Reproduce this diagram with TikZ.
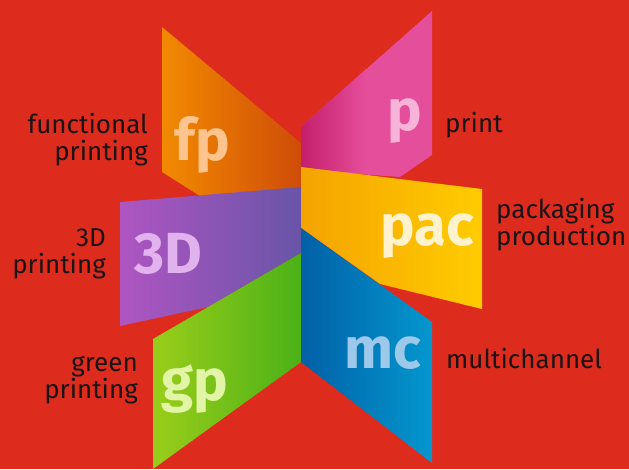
\documentclass[tikz,border=0pt]{standalone}
\usepackage{fontspec}
\setmainfont{Fira Sans}
\usetikzlibrary{positioning}

\definecolor{bgred}{HTML}{DD2B1E}
\definecolor{inkblack}{HTML}{1A1414}
\definecolor{fpleft}{HTML}{F28A00}   \definecolor{fpright}{HTML}{CF4C08}
\definecolor{pleft}{HTML}{C41F6C}    \definecolor{pright}{HTML}{E54E9B}
\definecolor{pacleft}{HTML}{F5A300}  \definecolor{pacright}{HTML}{FFCC00}
\definecolor{mcleft}{HTML}{0260A6}   \definecolor{mcright}{HTML}{0397CE}
\definecolor{tdleft}{HTML}{AF55C2}   \definecolor{tdright}{HTML}{6855A8}
\definecolor{gpleft}{HTML}{9ACD1A}   \definecolor{gpright}{HTML}{4BB117}
\definecolor{fptext}{HTML}{FFC48E}   \definecolor{ptext}{HTML}{F7B4D8}
\definecolor{pactext}{HTML}{FFF2CC}  \definecolor{mctext}{HTML}{9CC8EA}
\definecolor{tdtext}{HTML}{E2B2EE}   \definecolor{gptext}{HTML}{E2F4A6}

\tikzset{
panel/.style = {draw = none},
bigtag/.style = {font = \fontsize{58}{58}\selectfont\bfseries, inner sep = 0pt,
	anchor = base},
caption/.style = {font = \fontsize{26}{27}\selectfont, text = inkblack,
	inner sep = 0pt}
}

\begin{document}
\begin{tikzpicture}[x = 1pt, y = -1pt]

%% The background
\fill [bgred] (0,0) rectangle (629,469);
\useasboundingbox (0,0) rectangle (629,469);

%% The panels, back ones first
\shade [panel, left color = fpleft, right color = fpright]
	(162,27) -- (301,143) -- (301,200) -- (200,196) -- (162,172) -- cycle;
\shade [panel, left color = pright, right color = pright, middle color = pright]
	(301,127) -- (432,11) -- (432,155) -- (400,177) -- (301,170) -- cycle;
\shade [panel, left color = pleft, right color = pright]
	(301,127) -- (366,69) -- (366,173) -- (301,170) -- cycle;
\shade [panel, left color = tdleft, right color = tdright]
	(120,202) -- (301,187) -- (301,253) -- (208,307) -- (120,326) -- cycle;
\shade [panel, left color = pacleft, right color = pacright]
	(301,167) -- (482,189) -- (482,309) -- (380,284) -- (301,228) -- cycle;
\shade [panel, left color = gpleft, right color = gpright]
	(153,339) -- (301,253) -- (301,362) -- (153,469) -- cycle;
\shade [panel, left color = mcleft, right color = mcright]
	(301,228) -- (432,322) -- (432,463) -- (301,362) -- cycle;

%% The big tags
\node [bigtag, text = fptext] (fp) at (202,160) {fp};
\node [bigtag, text = ptext] (p) at (405,130) {p};
\node [bigtag, text = tdtext] (td) at (168,273) {3D};
\node [bigtag, text = pactext] (pac) at (427,245) {pac};
\node [bigtag, text = gptext] (gp) at (195,400) {gp};
\node [bigtag, text = mctext] (mc) at (383,368) {mc};

%% The captions
\node [caption, align = right, anchor = base east] (fpcap) at (148,160)
	{functional\\printing};
\node [caption, align = right, anchor = base east] (tdcap) at (106,273)
	{3D\\printing};
\node [caption, align = right, anchor = base east] (gpcap) at (138,398)
	{green\\printing};
\node [caption, anchor = base west] (pcap) at (445,132) {print};
\node [caption, align = left, anchor = base west] (paccap) at (496,245)
	{packaging\\production};
\node [caption, anchor = base west] (mccap) at (446,368) {multichannel};

\end{tikzpicture}
\end{document}
